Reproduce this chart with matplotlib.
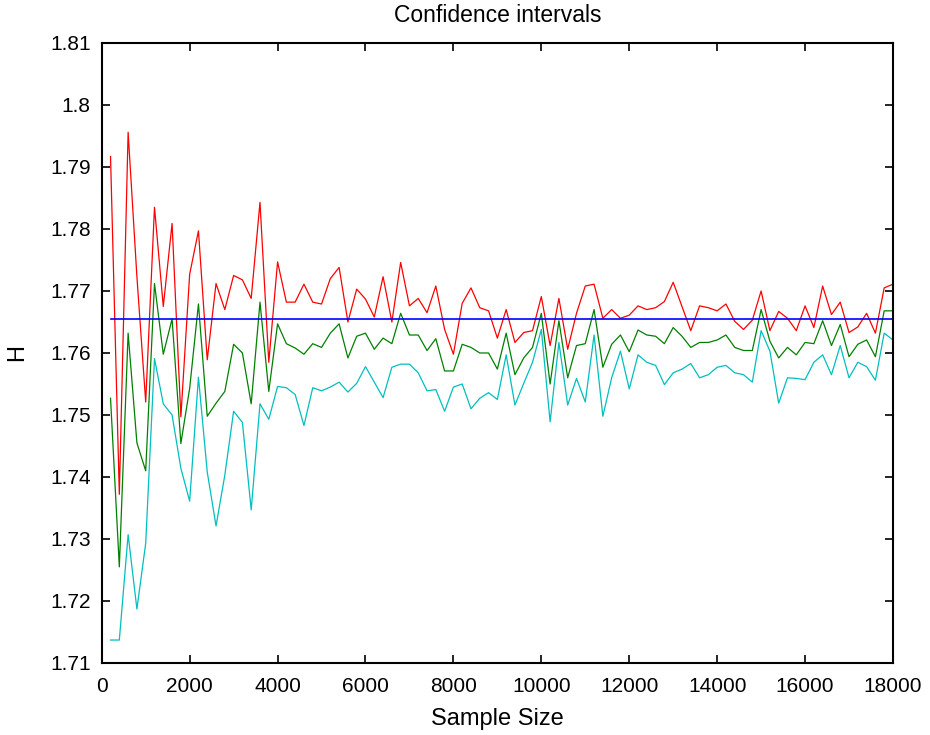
import matplotlib
matplotlib.use('Agg')
import matplotlib.pyplot as plt
import numpy as np

plt.rcParams['font.family'] = ['Liberation Sans', 'DejaVu Sans']

# sample sizes 200, 400, ..., 18000
sample_size = np.arange(200, 18001, 200)

# upper bound (red)
upper = [
    1.7917, 1.7372, 1.7956, 1.7723, 1.7521, 1.7835, 1.7675, 1.7809, 1.7497, 1.7727,
    1.7797, 1.7589, 1.7712, 1.7670, 1.7725, 1.7718, 1.7688, 1.7843, 1.7585, 1.7747,
    1.7682, 1.7682, 1.7711, 1.7682, 1.7679, 1.7720, 1.7738, 1.7650, 1.7703, 1.7687,
    1.7658, 1.7723, 1.7650, 1.7746, 1.7676, 1.7688, 1.7665, 1.7708, 1.7638, 1.7598,
    1.7680, 1.7705, 1.7673, 1.7668, 1.7624, 1.7670, 1.7617, 1.7633, 1.7636, 1.7691,
    1.7612, 1.7688, 1.7606, 1.7664, 1.7708, 1.7711, 1.7656, 1.7670, 1.7656, 1.7661,
    1.7676, 1.7670, 1.7673, 1.7683, 1.7714, 1.7675, 1.7636, 1.7676, 1.7673, 1.7668,
    1.7679, 1.7651, 1.7638, 1.7653, 1.7700, 1.7636, 1.7667, 1.7656, 1.7636, 1.7676,
    1.7641, 1.7708, 1.7662, 1.7682, 1.7633, 1.7642, 1.7664, 1.7632, 1.7705, 1.7711,
]

# estimate (green)
middle = [
    1.7527, 1.7255, 1.7632, 1.7455, 1.7410, 1.7712, 1.7598, 1.7655, 1.7454, 1.7543,
    1.7679, 1.7498, 1.7519, 1.7538, 1.7614, 1.7600, 1.7518, 1.7682, 1.7538, 1.7647,
    1.7615, 1.7608, 1.7598, 1.7615, 1.7609, 1.7632, 1.7647, 1.7592, 1.7627, 1.7632,
    1.7606, 1.7624, 1.7615, 1.7664, 1.7629, 1.7629, 1.7604, 1.7623, 1.7571, 1.7571,
    1.7614, 1.7609, 1.7600, 1.7600, 1.7574, 1.7632, 1.7565, 1.7592, 1.7609, 1.7664,
    1.7550, 1.7652, 1.7560, 1.7612, 1.7615, 1.7670, 1.7577, 1.7614, 1.7629, 1.7602,
    1.7637, 1.7629, 1.7627, 1.7615, 1.7641, 1.7627, 1.7609, 1.7617, 1.7617, 1.7621,
    1.7629, 1.7609, 1.7604, 1.7604, 1.7670, 1.7619, 1.7592, 1.7609, 1.7597, 1.7617,
    1.7615, 1.7652, 1.7612, 1.7646, 1.7594, 1.7614, 1.7621, 1.7594, 1.7668, 1.7668,
]

# lower bound (cyan)
lower = [
    1.7137, 1.7137, 1.7307, 1.7187, 1.7293, 1.7591, 1.7518, 1.7500, 1.7414, 1.7361,
    1.7561, 1.7408, 1.7321, 1.7403, 1.7506, 1.7488, 1.7347, 1.7518, 1.7493, 1.7546,
    1.7544, 1.7533, 1.7483, 1.7544, 1.7539, 1.7545, 1.7553, 1.7537, 1.7551, 1.7578,
    1.7553, 1.7528, 1.7577, 1.7582, 1.7582, 1.7568, 1.7539, 1.7541, 1.7506, 1.7545,
    1.7550, 1.7510, 1.7527, 1.7536, 1.7525, 1.7597, 1.7516, 1.7551, 1.7585, 1.7638,
    1.7489, 1.7617, 1.7516, 1.7559, 1.7521, 1.7629, 1.7498, 1.7560, 1.7603, 1.7542,
    1.7597, 1.7585, 1.7580, 1.7549, 1.7568, 1.7574, 1.7583, 1.7560, 1.7565, 1.7577,
    1.7580, 1.7568, 1.7565, 1.7553, 1.7636, 1.7603, 1.7519, 1.7560, 1.7559, 1.7557,
    1.7585, 1.7597, 1.7565, 1.7612, 1.7560, 1.7585, 1.7578, 1.7556, 1.7632, 1.7621,
]

true_h = 1.7655

fig = plt.figure(figsize=(9.3, 7.35), dpi=100)
ax = fig.add_axes([0.1094, 0.098, 0.8508, 0.8435])

ax.plot(sample_size, upper, color='#ff0000', linewidth=0.9)
ax.plot(sample_size, middle, color='#008000', linewidth=0.9)
ax.plot(sample_size, lower, color='#00bfbf', linewidth=0.9)
ax.plot([sample_size[0], sample_size[-1]], [true_h, true_h], color='#0000ff', linewidth=1.2)

ax.set_xlim(0, 18000)
ax.set_ylim(1.71, 1.81)
ax.set_xticks(np.arange(0, 18001, 2000))
ax.set_yticks(np.arange(1.71, 1.8101, 0.01))
ax.set_yticklabels(['1.71', '1.72', '1.73', '1.74', '1.75', '1.76', '1.77', '1.78',
                    '1.79', '1.8', '1.81'])

ax.tick_params(direction='in', top=True, right=True, length=6, width=1.2, labelsize=15)
ax.tick_params(axis='x', pad=10)
ax.tick_params(axis='y', pad=8)
for sp in ax.spines.values():
    sp.set_linewidth(1.5)

ax.set_title('Confidence intervals', fontsize=16.5, pad=15)
ax.set_xlabel('Sample Size', fontsize=17, labelpad=9)
ax.set_ylabel('H', fontsize=17, labelpad=16)

fig.savefig('out.png', dpi=100)
